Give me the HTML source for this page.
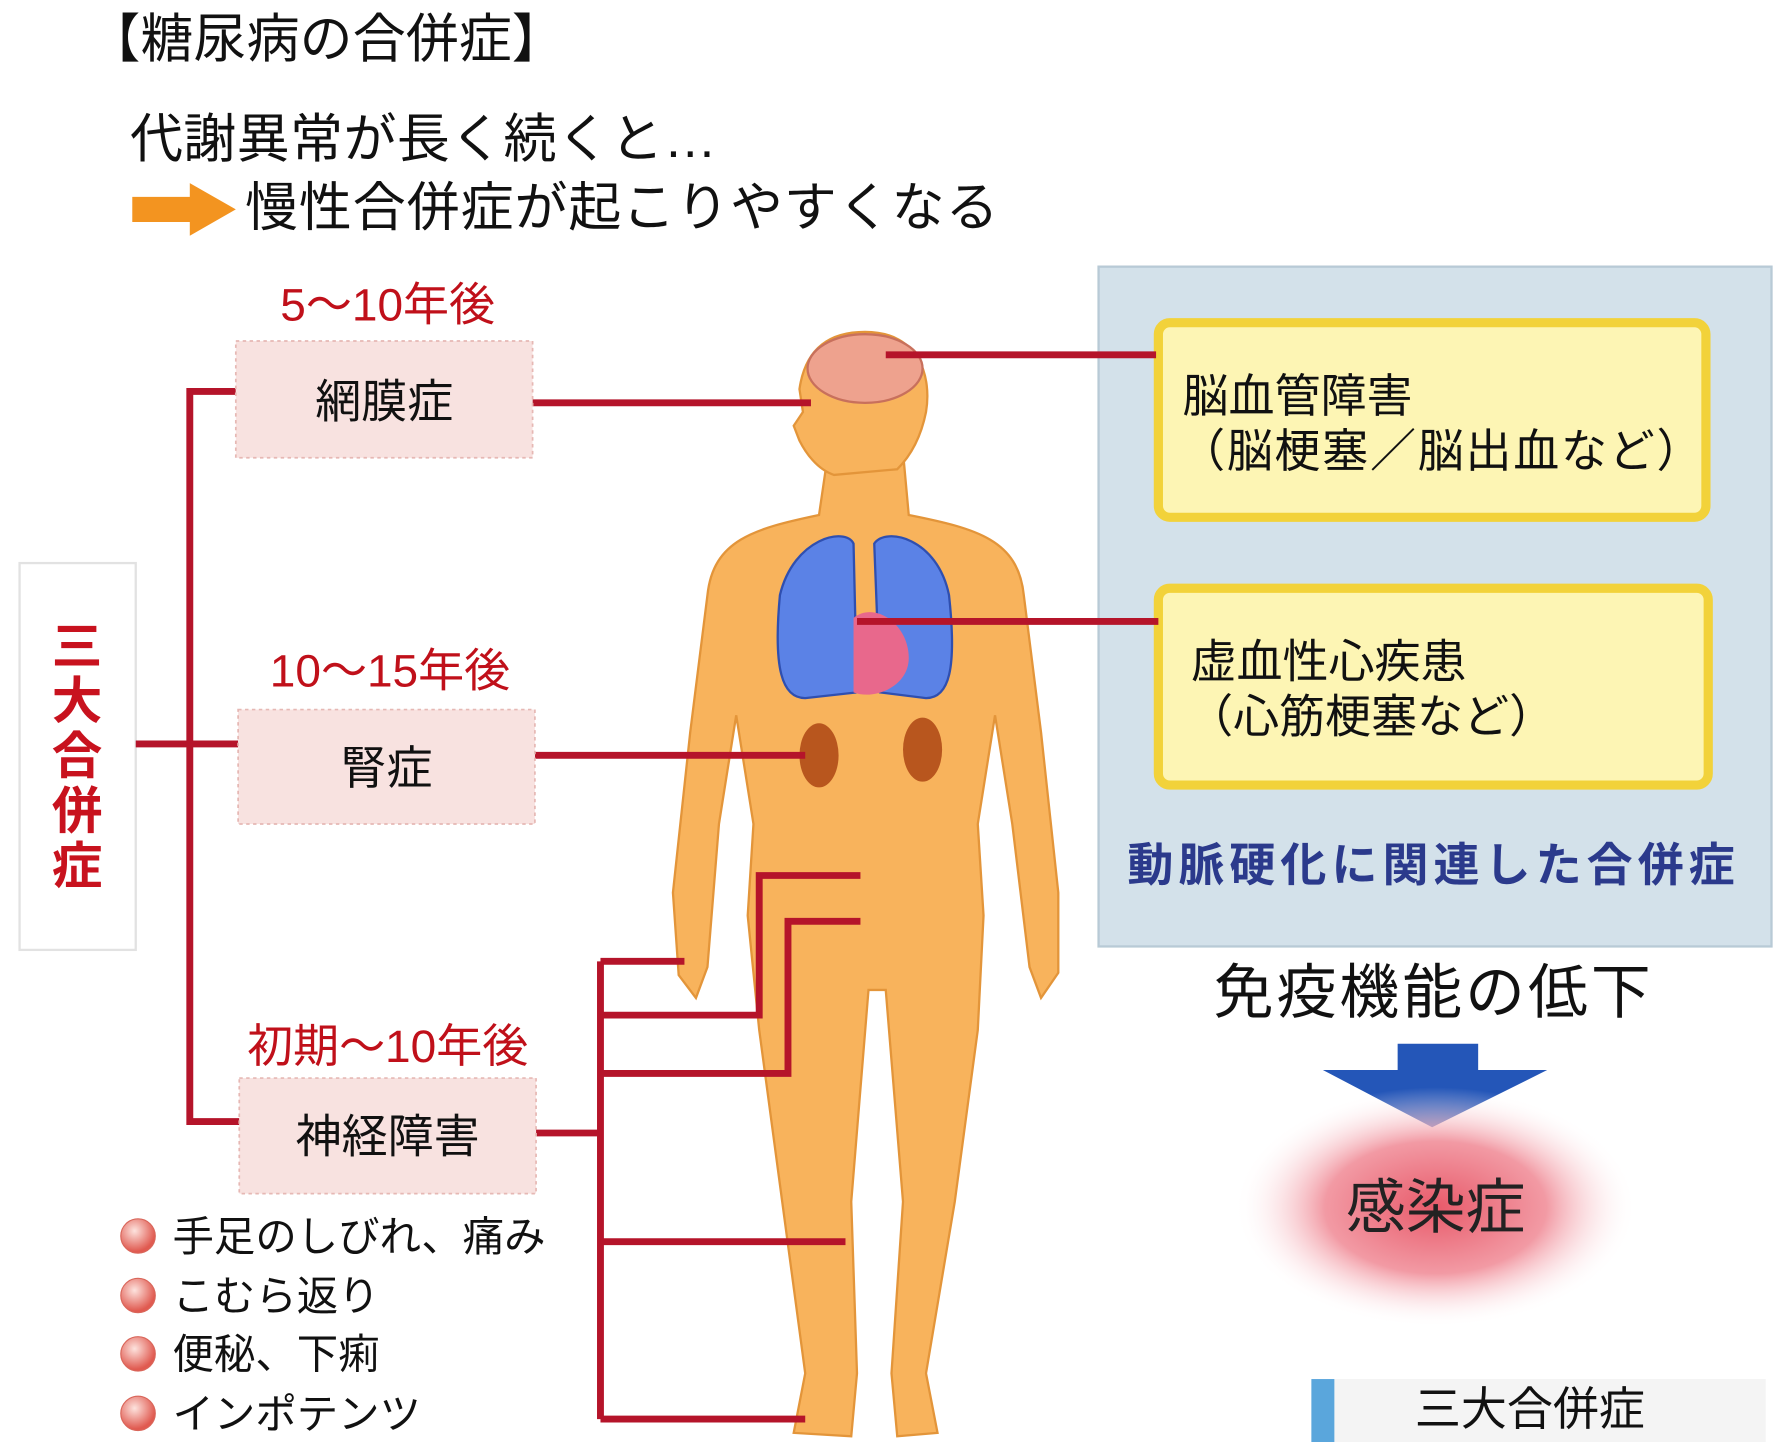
<!DOCTYPE html>
<html><head><meta charset="utf-8"><style>
html,body{margin:0;padding:0;background:#fff;}
svg{display:block;}
text{font-family:"Liberation Sans","Noto Sans CJK JP",sans-serif;}
</style></head><body>
<svg width="1783" height="1442" viewBox="0 0 1550 1260" preserveAspectRatio="none" xmlns="http://www.w3.org/2000/svg">
<defs>
<radialGradient id="glow" cx="50%" cy="50%" r="50%">
<stop offset="0" stop-color="#e85a6a"/><stop offset="0.55" stop-color="#f29aa4"/><stop offset="1" stop-color="#fff" stop-opacity="0"/>
</radialGradient>
<radialGradient id="bul" cx="40%" cy="35%" r="60%">
<stop offset="0" stop-color="#fde3de"/><stop offset="1" stop-color="#e05a50"/>
</radialGradient>
</defs>
<rect width="1550" height="1260" fill="#fff"/>
<text x="76" y="50" font-size="46" fill="#111" textLength="415">【糖尿病の合併症】</text>
<text x="113" y="137" font-size="46" fill="#111" textLength="510">代謝異常が長く続くと…</text>
<polygon points="115,172 165,172 165,160 205,183 165,206 165,194 115,194" fill="#f39420"/>
<text x="213" y="197" font-size="46" fill="#111" textLength="655">慢性合併症が起こりやすくなる</text>
<rect x="955" y="233" width="585" height="594" fill="#d3e1ea" stroke="#b8cad6" stroke-width="2"/>
<rect x="1007" y="282" width="476" height="170" rx="10" fill="#fdf5b4" stroke="#f2d23a" stroke-width="8"/>
<rect x="1007" y="514" width="478" height="172" rx="10" fill="#fdf5b4" stroke="#f2d23a" stroke-width="8"/>
<text x="1028" y="360" font-size="40" fill="#111">脳血管障害</text>
<text x="1025" y="408" font-size="40" fill="#111" textLength="455">（脳梗塞／脳出血など）</text>
<text x="1035" y="592" font-size="40" fill="#111">虚血性心疾患</text>
<text x="1032" y="640" font-size="40" fill="#111">（心筋梗塞など）</text>
<text x="980" y="770" font-size="40" font-weight="bold" fill="#2b3a8c" textLength="528">動脈硬化に関連した合併症</text>
<text x="1055" y="885" font-size="52" fill="#111" textLength="380">免疫機能の低下</text>
<polygon points="1215,912 1285,912 1285,935 1345,935 1245,985 1150,935 1215,935" fill="#2456b8"/>
<ellipse cx="1248" cy="1055" rx="175" ry="105" fill="url(#glow)"/>
<text x="1248" y="1073" font-size="52" fill="#222" text-anchor="middle">感染症</text>
<rect x="1160" y="1205" width="375" height="55" fill="#f4f4f4"/>
<rect x="1140" y="1205" width="20" height="55" fill="#5aa6dc"/>
<text x="1230" y="1245" font-size="40" fill="#111">三大合併症</text>
<rect x="17" y="492" width="101" height="338" fill="#fff" stroke="#e2e2e2" stroke-width="2"/>
<g font-size="44" font-weight="bold" fill="#c8121e" text-anchor="middle">
<text x="67" y="580">三</text><text x="67" y="628">大</text><text x="67" y="676">合</text><text x="67" y="724">併</text><text x="67" y="772">症</text>
</g>
<g fill="#f8b35c" stroke="#e3953a" stroke-width="2">
<path d="M720,395 L785,395 L790,450 C850,462 885,472 890,520 L905,640 L920,780 L920,850 L905,872 L895,845 L880,720 L865,625 L850,720 L855,800 L850,900 L830,1050 L805,1200 L815,1252 L780,1255 L775,1200 L785,1050 L770,865 L755,865 L740,1050 L745,1200 L740,1255 L690,1252 L700,1200 L680,1050 L660,900 L650,800 L655,720 L640,625 L625,720 L615,845 L605,872 L590,852 L585,780 L600,640 L615,520 C620,472 655,462 712,450 Z"/>
<path d="M752,290 C800,290 810,330 805,360 C800,385 790,400 780,410 L725,415 C710,410 700,395 695,385 L690,372 L698,360 L695,340 C700,305 720,290 752,290 Z"/>
</g>
<ellipse cx="752" cy="322" rx="50" ry="30" fill="#eea28e" stroke="#c8705c" stroke-width="2"/>
<path d="M678,520 C690,470 735,460 742,475 L745,605 L700,610 C680,610 672,585 678,520 Z" fill="#5b82e6" stroke="#2f4fb0" stroke-width="2"/>
<path d="M825,520 C815,470 770,460 760,475 L765,605 L805,610 C825,610 832,585 825,520 Z" fill="#5b82e6" stroke="#2f4fb0" stroke-width="2"/>
<path d="M742,540 C760,525 790,545 790,575 C790,600 760,612 742,605 Z" fill="#e8688c"/>
<ellipse cx="712" cy="660" rx="17" ry="28" fill="#b8561e"/>
<ellipse cx="802" cy="655" rx="17" ry="28" fill="#b8561e"/>
<g stroke="#b5142a" stroke-width="6" fill="none">
<path d="M205,342 L165,342 L165,980 L208,980"/>
<path d="M118,650 L207,650"/>
<path d="M463,352 L705,352"/>
<path d="M770,310 L1005,310"/>
<path d="M745,543 L1007,543"/>
<path d="M465,660 L700,660"/>
<path d="M466,990 L522,990"/>
<path d="M522,840 L522,1240"/>
<path d="M522,840 L595,840"/>
<path d="M522,887 L660,887 L660,765 L748,765"/>
<path d="M522,938 L685,938 L685,805 L748,805"/>
<path d="M522,1085 L735,1085"/>
<path d="M522,1240 L700,1240"/>
</g>
<g fill="#f8e2e0" stroke="#e6b8b4" stroke-width="1.5" stroke-dasharray="3,3">
<rect x="205" y="298" width="258" height="102"/>
<rect x="207" y="620" width="258" height="100"/>
<rect x="208" y="942" width="258" height="101"/>
</g>
<g font-size="40" fill="#111" text-anchor="middle">
<text x="334" y="365">網膜症</text>
<text x="336" y="685">腎症</text>
<text x="337" y="1007">神経障害</text>
</g>
<g font-size="40" fill="#c0101a" text-anchor="middle">
<text x="337" y="280">5〜10年後</text>
<text x="339" y="600">10〜15年後</text>
<text x="337" y="928">初期〜10年後</text>
</g>
<g fill="url(#bul)" stroke="#d9665a" stroke-width="1">
<circle cx="120" cy="1080" r="15"/><circle cx="120" cy="1132" r="15"/><circle cx="120" cy="1183" r="15"/><circle cx="120" cy="1235" r="15"/>
</g>
<g font-size="36" fill="#111">
<text x="150" y="1093">手足のしびれ、痛み</text>
<text x="150" y="1145">こむら返り</text>
<text x="150" y="1196">便秘、下痢</text>
<text x="150" y="1248">インポテンツ</text>
</g>
</svg>
</body></html>
